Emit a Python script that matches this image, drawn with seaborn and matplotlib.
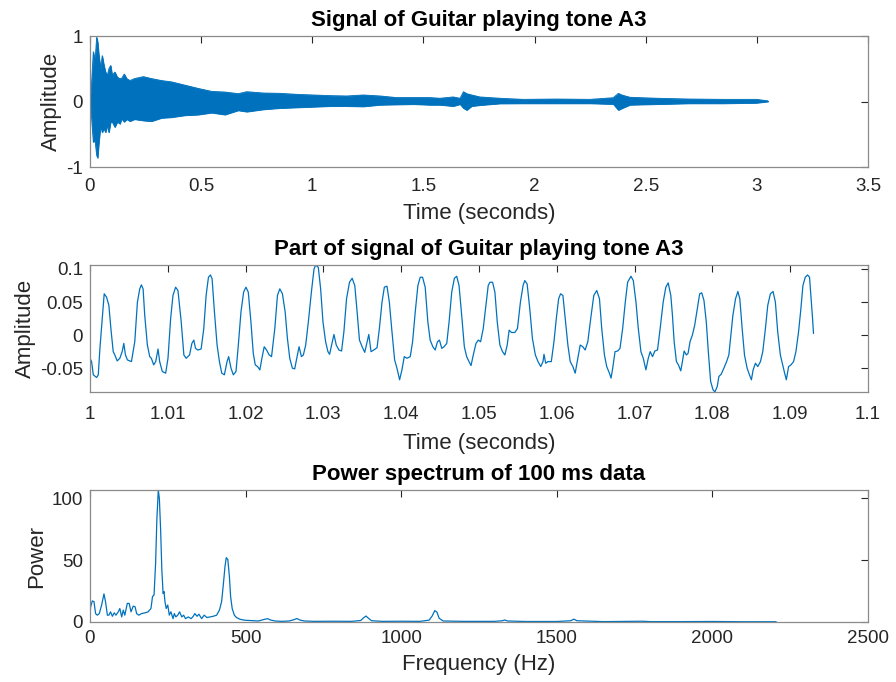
import numpy as np
import pandas as pd
import matplotlib
matplotlib.use("Agg")
import matplotlib.pyplot as plt
from matplotlib.ticker import FuncFormatter
import seaborn as sns

# ---------------- data ----------------
# Panel 1: envelope of the full guitar recording (time s, upper, lower)
full_time = [0.000, 0.0075, 0.015, 0.0225, 0.030, 0.0345, 0.040, 0.048, 0.055, 0.063,
             0.070, 0.078, 0.085, 0.093, 0.100, 0.112, 0.123, 0.135, 0.142, 0.154,
             0.165, 0.180, 0.200, 0.240, 0.277, 0.322, 0.367, 0.427, 0.487, 0.547,
             0.607, 0.667, 0.705, 0.780, 0.855, 0.930, 1.005, 1.080, 1.155, 1.230,
             1.305, 1.380, 1.455, 1.530, 1.574, 1.634, 1.665, 1.680, 1.695, 1.717,
             1.754, 1.844, 1.949, 2.099, 2.249, 2.354, 2.377, 2.392, 2.429, 2.549,
             2.699, 2.849, 2.999, 3.050]
full_upper = [0.02, 0.30, 0.76, 0.60, 0.98, 0.91, 0.70, 0.50, 0.70, 0.55,
              0.45, 0.40, 0.50, 0.55, 0.40, 0.45, 0.37, 0.35, 0.35, 0.42,
              0.35, 0.32, 0.35, 0.38, 0.35, 0.32, 0.30, 0.25, 0.20, 0.155,
              0.145, 0.12, 0.15, 0.13, 0.125, 0.11, 0.10, 0.09, 0.085, 0.10,
              0.085, 0.06, 0.06, 0.06, 0.05, 0.07, 0.05, 0.15, 0.12, 0.10,
              0.07, 0.05, 0.033, 0.038, 0.033, 0.058, 0.125, 0.10, 0.065, 0.05,
              0.038, 0.033, 0.033, 0.01]
full_lower = [-0.02, -0.26, -0.62, -0.58, -0.82, -0.86, -0.62, -0.36, -0.47, -0.41,
              -0.47, -0.36, -0.47, -0.31, -0.31, -0.39, -0.31, -0.34, -0.26, -0.31,
              -0.27, -0.30, -0.27, -0.29, -0.30, -0.25, -0.24, -0.21, -0.20, -0.17,
              -0.20, -0.135, -0.155, -0.12, -0.10, -0.09, -0.08, -0.07, -0.07, -0.075,
              -0.05, -0.045, -0.04, -0.05, -0.05, -0.07, -0.04, -0.10, -0.13, -0.07,
              -0.055, -0.03, -0.028, -0.028, -0.028, -0.038, -0.13, -0.105, -0.05, -0.04,
              -0.028, -0.028, -0.02, 0.00]

# Panel 2: part of the signal, time offset after 1 s (ms) and amplitude
part_offset_ms = [0.00, 0.21, 0.43, 0.85, 1.07, 1.28, 1.58, 1.83, 2.13, 2.43,
                  2.69, 2.99, 3.20, 3.50, 3.84, 4.14, 4.35, 4.56, 4.82, 5.33,
                  5.76, 6.10, 6.40, 6.61, 6.83, 7.04, 7.38, 7.68, 7.89, 8.19,
                  8.45, 8.75, 8.96, 9.30, 9.73, 10.03, 10.37, 10.67, 11.01, 11.31,
                  11.73, 12.07, 12.37, 12.80, 13.10, 13.35, 13.57, 13.87, 14.29, 14.63,
                  14.93, 15.23, 15.49, 15.70, 16.00, 16.34, 16.64, 16.94, 17.28, 17.62,
                  17.83, 18.13, 18.43, 18.77, 19.07, 19.41, 19.75, 20.05, 20.35, 20.69,
                  20.99, 21.25, 21.54, 21.84, 22.10, 22.40, 22.70, 23.04, 23.34, 23.76,
                  24.10, 24.40, 24.74, 25.09, 25.38, 25.68, 26.02, 26.32, 26.58, 26.88,
                  27.18, 27.43, 27.73, 28.07, 28.46, 28.80, 29.01, 29.35, 29.65, 29.95,
                  30.29, 30.59, 30.80, 31.06, 31.36, 31.66, 32.00, 32.34, 32.64, 32.98,
                  33.36, 33.70, 34.04, 34.34, 34.64, 34.98, 35.32, 35.62, 35.84, 36.13,
                  36.48, 36.90, 37.20, 37.54, 37.84, 38.18, 38.48, 38.82, 39.16, 39.46,
                  39.80, 40.10, 40.40, 40.74, 41.17, 41.47, 41.81, 42.15, 42.45, 42.75,
                  43.09, 43.43, 43.73, 44.07, 44.37, 44.67, 44.92, 45.22, 45.52, 45.86,
                  46.16, 46.50, 46.84, 47.14, 47.44, 47.78, 48.12, 48.42, 48.72, 48.98,
                  49.27, 49.62, 49.91, 50.21, 50.55, 50.90, 51.19, 51.41, 51.75, 52.05,
                  52.35, 52.69, 53.03, 53.33, 53.63, 53.88, 54.18, 54.61, 54.95, 55.33,
                  55.67, 55.89, 56.19, 56.53, 56.87, 57.25, 57.59, 57.94, 58.23, 58.36,
                  58.58, 58.87, 59.30, 59.64, 59.94, 60.24, 60.49, 60.79, 61.13, 61.43,
                  61.73, 62.07, 62.37, 62.71, 63.01, 63.35, 63.65, 63.99, 64.42, 64.76,
                  65.14, 65.49, 65.78, 66.13, 66.42, 66.77, 66.98, 67.19, 67.49, 67.83,
                  68.13, 68.47, 68.81, 69.11, 69.54, 69.84, 70.18, 70.48, 70.82, 71.12,
                  71.46, 71.76, 72.01, 72.31, 72.61, 72.95, 73.29, 73.68, 74.02, 74.32,
                  74.66, 74.87, 75.09, 75.38, 75.64, 75.94, 76.15, 76.37, 76.66, 76.88,
                  77.13, 77.43, 77.73, 78.07, 78.37, 78.63, 78.92, 79.22, 79.48, 79.78,
                  80.08, 80.33, 80.63, 80.84, 81.14, 81.48, 81.83, 82.12, 82.34, 82.64,
                  82.98, 83.28, 83.53, 83.83, 84.13, 84.47, 84.77, 85.02, 85.24, 85.54,
                  85.84, 86.18, 86.48, 86.82, 87.12, 87.46, 87.80, 88.10, 88.40, 88.74,
                  89.04, 89.29, 89.51, 89.80, 90.10, 90.44, 90.74, 91.08, 91.38, 91.64,
                  91.94, 92.24, 92.49, 92.66, 92.88, 93.00]
part_amp = [-0.035, -0.040, -0.060, -0.064, -0.060, -0.020, 0.025, 0.0625, 0.0575, 0.045,
            0.010, -0.025, -0.030, -0.039, -0.035, -0.025, -0.0125, -0.030, -0.0375, -0.040,
            -0.010, 0.050, 0.070, 0.076, 0.070, 0.030, -0.015, -0.0325, -0.035, -0.045,
            -0.040, -0.021, -0.040, -0.055, -0.0575, -0.035, 0.025, 0.060, 0.0725, 0.0675,
            0.020, -0.030, -0.035, -0.030, -0.0125, -0.0075, -0.020, -0.0225, -0.021, 0.010,
            0.060, 0.0875, 0.091, 0.085, 0.035, -0.015, -0.040, -0.0575, -0.060, -0.040,
            -0.0325, -0.050, -0.060, -0.055, -0.015, 0.035, 0.065, 0.0725, 0.065, 0.020,
            -0.0275, -0.045, -0.0475, -0.0525, -0.035, -0.0175, -0.0225, -0.030, -0.0325, 0.010,
            0.060, 0.070, 0.0625, 0.035, -0.005, -0.035, -0.050, -0.051, -0.035, -0.0175,
            -0.0325, -0.030, -0.015, 0.020, 0.065, 0.100, 0.106, 0.1025, 0.070, 0.020,
            -0.010, -0.025, -0.029, -0.015, 0.001, -0.015, -0.0225, -0.024, 0.005, 0.055,
            0.080, 0.086, 0.075, 0.035, -0.0075, -0.0175, -0.026, -0.010, 0.001, -0.025,
            -0.0225, -0.019, 0.010, 0.050, 0.0725, 0.074, 0.050, 0.005, -0.0375, -0.050,
            -0.0675, -0.0525, -0.0325, -0.035, -0.0325, -0.010, 0.035, 0.075, 0.0875, 0.0875,
            0.0725, 0.020, -0.0075, -0.0175, -0.0225, -0.010, -0.0075, -0.020, -0.0175, -0.0125,
            0.020, 0.065, 0.086, 0.089, 0.075, 0.030, -0.0175, -0.0325, -0.040, -0.046,
            -0.030, -0.0125, -0.0075, -0.010, 0.010, 0.045, 0.075, 0.080, 0.080, 0.065,
            0.020, -0.015, -0.025, -0.030, -0.015, 0.0075, 0.004, 0.004, 0.010, 0.050,
            0.075, 0.0825, 0.0775, 0.040, -0.005, -0.030, -0.040, -0.0475, -0.040, -0.029,
            -0.0425, -0.040, -0.040, -0.010, 0.025, 0.055, 0.0625, 0.060, 0.020, -0.015,
            -0.040, -0.0475, -0.0575, -0.035, -0.015, -0.0175, -0.0225, -0.010, 0.030, 0.060,
            0.0675, 0.055, 0.010, -0.030, -0.0475, -0.0575, -0.065, -0.050, -0.025, -0.024,
            -0.020, 0.010, 0.050, 0.080, 0.089, 0.0825, 0.050, 0.010, -0.025, -0.035,
            -0.0525, -0.035, -0.025, -0.0325, -0.024, -0.0225, 0.010, 0.050, 0.0725, 0.079,
            0.060, 0.030, -0.010, -0.040, -0.045, -0.054, -0.040, -0.024, -0.030, -0.0275,
            -0.010, 0.000, 0.015, 0.040, 0.0625, 0.064, 0.0525, 0.020, -0.025, -0.070,
            -0.0825, -0.086, -0.0775, -0.0625, -0.059, -0.050, -0.040, -0.030, -0.005, 0.030,
            0.055, 0.066, 0.055, 0.010, -0.030, -0.050, -0.060, -0.0675, -0.0525, -0.0425,
            -0.0475, -0.040, -0.025, 0.010, 0.045, 0.0625, 0.066, 0.050, 0.005, -0.030,
            -0.045, -0.0575, -0.0675, -0.0475, -0.045, -0.040, -0.025, 0.005, 0.040, 0.075,
            0.0875, 0.091, 0.0875, 0.060, 0.025, 0.0025]

# Panel 3: power spectrum of 100 ms of data
spec_freq = [0, 2, 7.5, 13, 18, 23.6, 30, 37.5, 45, 50,
             56, 61, 66, 72, 78, 83.5, 91, 96, 102, 107,
             112, 120, 126, 132, 139, 145, 150, 157, 166, 177,
             187, 196, 201, 206, 211, 215, 219.6, 223, 227, 231,
             235, 238, 241, 245, 250, 255, 260, 267, 271, 276,
             282, 288, 295, 301, 307, 316, 325, 332, 337, 344,
             350, 359, 367, 376, 386, 396, 407, 416, 423, 428,
             434, 438, 443, 448, 452, 457, 464, 471, 482, 498,
             520, 541, 562, 571, 580, 595, 616, 640, 655, 665,
             675, 690, 720, 780, 840, 870, 880, 887, 895, 905,
             940, 1000, 1060, 1090, 1100, 1108, 1115, 1122, 1135, 1200,
             1300, 1325, 1333, 1342, 1400, 1500, 1545, 1555, 1565, 1650,
             1775, 1800, 1900, 2000, 2100, 2205]
spec_power = [4, 12, 17, 16.4, 6.8, 5.5, 6.8, 13.7, 22.7, 16.4,
              5.5, 5.5, 8.2, 4.6, 7.4, 5.5, 8.2, 10.9, 4.1, 9.6,
              5.5, 15, 15, 8.2, 12.8, 12.3, 6.8, 5.5, 6.8, 7.4,
              8.2, 10.9, 20.5, 21.9, 47.8, 83, 106.6, 99.7, 75, 42,
              23, 24.6, 16.4, 10.9, 13.7, 5.5, 8.2, 2.7, 6.8, 4.1,
              5.5, 8.2, 4.1, 5.5, 2.7, 4.1, 2.7, 4.6, 6.8, 4.6,
              6.3, 2.7, 5.5, 3.6, 4.1, 4.6, 5.5, 9.6, 16.4, 28.7,
              45, 52, 50.5, 36.9, 20.5, 10.9, 5.5, 3.6, 2.2, 1.4,
              1.1, 0.8, 2.2, 2.7, 1.6, 0.8, 0.5, 0.8, 1.8, 2.8,
              1.5, 0.8, 0.5, 0.6, 0.5, 1.2, 3.5, 4.8, 3.0, 1.0,
              0.5, 0.6, 0.5, 1.5, 5.0, 9.2, 8.0, 3.0, 0.8, 0.5,
              0.5, 1.0, 1.6, 0.8, 0.4, 0.4, 1.0, 2.3, 1.0, 0.3,
              0.6, 0.3, 0.3, 0.4, 0.2, 0.2]

# ---------------- style ----------------
sns.set_style("white")
plt.rcParams['font.family'] = ['Liberation Sans', 'DejaVu Sans']
plt.rcParams['axes.unicode_minus'] = False

LINE = '#0072BD'
TXT = '#262626'
TICK_FS = 13.5
LAB_FS = 16
TIT_FS = 16

fig = plt.figure(figsize=(8.96, 6.82), dpi=100)
ax1 = fig.add_axes([0.1004, 0.7551, 0.8683, 0.1921])
ax2 = fig.add_axes([0.1004, 0.4252, 0.8683, 0.1862])
ax3 = fig.add_axes([0.1004, 0.0880, 0.8683, 0.1935])

fmt = FuncFormatter(lambda v, p: ('%g' % round(v, 6)))


def style(ax, title, xlabel, ylabel, xpad=7, lpad=5):
    ax.set_title(title, fontsize=TIT_FS, fontweight='bold', color='black', pad=7.5)
    ax.set_xlabel(xlabel, fontsize=LAB_FS, color=TXT, labelpad=lpad)
    ax.set_ylabel(ylabel, fontsize=LAB_FS, color=TXT, labelpad=3)
    ax.tick_params(direction='in', top=True, right=True, length=5, width=0.8,
                   color=TXT, labelsize=TICK_FS, labelcolor=TXT)
    ax.tick_params(axis='x', pad=xpad)
    ax.tick_params(axis='y', pad=5)
    for s in ax.spines.values():
        s.set_color('#8a8a8a')
        s.set_linewidth(0.9)
        s.set_visible(True)
    ax.xaxis.set_major_formatter(fmt)
    ax.yaxis.set_major_formatter(fmt)


# Panel 1
df1 = pd.DataFrame({'t': full_time, 'up': full_upper, 'lo': full_lower})
ax1.fill_between(df1['t'], df1['lo'], df1['up'], color=LINE, linewidth=0.6, edgecolor=LINE)
sns.lineplot(data=df1, x='t', y='up', ax=ax1, color=LINE, linewidth=0.6, estimator=None, sort=False)
sns.lineplot(data=df1, x='t', y='lo', ax=ax1, color=LINE, linewidth=0.6, estimator=None, sort=False)
ax1.set_xlim(0, 3.5)
ax1.set_ylim(-1, 1)
ax1.set_xticks(np.arange(0, 3.51, 0.5))
ax1.set_yticks([-1, 0, 1])
style(ax1, 'Signal of Guitar playing tone A3', 'Time (seconds)', 'Amplitude', xpad=8, lpad=6)

# Panel 2
df2 = pd.DataFrame({'t': 1.0 + np.array(part_offset_ms) / 1000.0, 'a': part_amp})
sns.lineplot(data=df2, x='t', y='a', ax=ax2, color=LINE, linewidth=0.9, estimator=None, sort=False)
ax2.set_xlim(1.0, 1.1)
ax2.set_ylim(min(part_amp), max(part_amp))
ax2.set_xticks(np.linspace(1.0, 1.1, 11))
ax2.set_yticks([-0.05, 0, 0.05, 0.1])
style(ax2, 'Part of signal of Guitar playing tone A3', 'Time (seconds)', 'Amplitude', xpad=10, lpad=7)

# Panel 3
df3 = pd.DataFrame({'f': spec_freq, 'p': spec_power})
sns.lineplot(data=df3, x='f', y='p', ax=ax3, color=LINE, linewidth=0.9, estimator=None, sort=False)
ax3.set_xlim(0, 2500)
ax3.set_ylim(0, max(spec_power))
ax3.set_xticks([0, 500, 1000, 1500, 2000, 2500])
ax3.set_yticks([0, 50, 100])
style(ax3, 'Power spectrum of 100 ms data', 'Frequency (Hz)', 'Power', xpad=6, lpad=5)

fig.savefig('out.png', dpi=100, facecolor='white')
